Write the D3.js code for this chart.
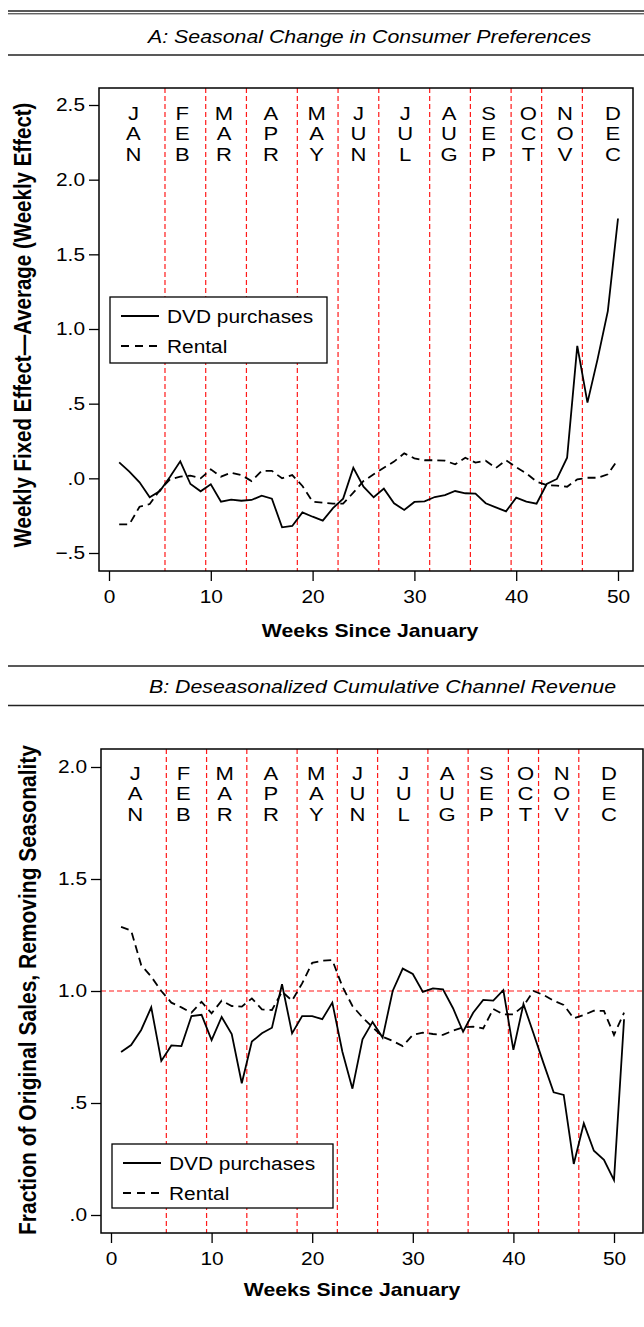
<!DOCTYPE html>
<html>
<head>
<meta charset="utf-8">
<script src="https://cdn.jsdelivr.net/npm/d3@7"></script>
<style>
  body { margin: 0; background: #fff; }
  svg { font-family: "Liberation Sans", Arial, Helvetica, sans-serif; }
</style>
</head>
<body>
<div id="visualization"></div>
<script>
// Month labels and the week where each month ends (red dashed lines)
const months = ["JAN", "FEB", "MAR", "APR", "MAY", "JUN", "JUL", "AUG", "SEP", "OCT", "NOV", "DEC"];
const monthLabelWeeks = [2.4, 7.2, 11.3, 15.9, 20.4, 24.5, 29.1, 33.4, 37.3, 41.2, 44.8, 49.5];
const monthBreaks = [5.5, 9.5, 13.5, 18.5, 22.5, 26.5, 31.5, 35.5, 39.5, 42.5, 46.5];

const xTicks = [0, 10, 20, 30, 40, 50];
const yTicksA = [2.5, 2.0, 1.5, 1.0, 0.5, 0.0, -0.5];
const yTicksB = [2.0, 1.5, 1.0, 0.5, 0.0];

// Panel A: weekly fixed effect minus average, weeks 1..50
const dvdA = [0.107, 0.045, -0.027, -0.127, -0.085, 0.01, 0.114, -0.038, -0.087, -0.04,
              -0.156, -0.143, -0.15, -0.145, -0.116, -0.136, -0.328, -0.319, -0.228, -0.257,
              -0.283, -0.2, -0.136, 0.071, -0.056, -0.127, -0.069, -0.167, -0.212, -0.158,
              -0.154, -0.125, -0.112, -0.085, -0.1, -0.103, -0.167, -0.194, -0.221, -0.129,
              -0.156, -0.17, -0.038, -0.004, 0.138, 0.887, 0.507, 0.8, 1.12, 1.74];
const rentalA = [-0.308, -0.308, -0.19, -0.172, -0.078, -0.007, 0.011, 0.018, 0.0, 0.06,
                 0.011, 0.038, 0.022, -0.018, 0.05, 0.05, 0.0, 0.022, -0.051, -0.156,
                 -0.163, -0.17, -0.17, -0.096, -0.018, 0.027, 0.071, 0.112, 0.167, 0.134,
                 0.121, 0.121, 0.118, 0.094, 0.138, 0.105, 0.118, 0.069, 0.121, 0.074,
                 0.033, -0.022, -0.045, -0.049, -0.056, -0.007, 0.004, 0.004, 0.027, 0.127];

// Panel B: fraction of original sales after removing seasonality, weeks 1..51
const dvdB = [0.728, 0.759, 0.826, 0.927, 0.688, 0.757, 0.754, 0.888, 0.894, 0.781,
              0.884, 0.808, 0.588, 0.774, 0.811, 0.836, 1.03, 0.811, 0.888, 0.888,
              0.874, 0.948, 0.729, 0.564, 0.784, 0.862, 0.792, 1.0, 1.1, 1.076,
              0.996, 1.012, 1.007, 0.923, 0.818, 0.903, 0.96, 0.957, 1.004, 0.737,
              0.942, 0.81, 0.677, 0.548, 0.536, 0.228, 0.409, 0.287, 0.246, 0.156,
              0.874];
const rentalB = [1.286, 1.27, 1.116, 1.064, 1.0, 0.948, 0.927, 0.903, 0.952, 0.9,
                 0.957, 0.933, 0.93, 0.967, 0.918, 0.915, 0.997, 0.957, 1.034, 1.126,
                 1.135, 1.138, 1.02, 0.933, 0.882, 0.838, 0.796, 0.777, 0.754, 0.804,
                 0.814, 0.808, 0.804, 0.823, 0.838, 0.841, 0.833, 0.92, 0.896, 0.896,
                 0.933, 1.0, 0.982, 0.957, 0.938, 0.878, 0.893, 0.912, 0.911, 0.804,
                 0.903];

const width = 644, height = 1327;
const sx = 1.16; // the original figure's lettering is a bit wider than it is tall

const svg = d3.select("#visualization")
              .append("svg")
              .attr("width", width)
              .attr("height", height);

// text placed at (x, y) and stretched horizontally
function label(parent, x, y, str, size) {
    return parent.append("text")
                 .attr("transform", `translate(${x},${y}) scale(${sx},1)`)
                 .style("font-size", size + "px")
                 .text(str);
}

function rule(y, w) {
    svg.append("line")
       .attr("x1", 8).attr("x2", width)
       .attr("y1", y).attr("y2", y)
       .attr("stroke", "#222")
       .attr("stroke-width", w);
}
rule(11, 1.6);
rule(13.8, 1);
rule(55, 1.4);
rule(666, 1.4);
rule(705.5, 1.4);

label(svg, 148, 43, "A: Seasonal Change in Consumer Preferences", 18.4)
   .style("font-style", "italic");
label(svg, 149, 693, "B: Deseasonalized Cumulative Channel Revenue", 18.4)
   .style("font-style", "italic");

function drawPanel(opts) {
    const g = svg.append("g");
    const b = opts.box;

    const x = d3.scaleLinear().domain([0, 50]).range(opts.xRange);
    const y = d3.scaleLinear().domain(opts.yDomain).range(opts.yRange);

    // month boundaries
    g.selectAll(".mline")
     .data(monthBreaks)
     .enter().append("line")
     .attr("x1", d => x(d)).attr("x2", d => x(d))
     .attr("y1", b.top).attr("y2", b.bottom)
     .attr("stroke", "#ff1a1a")
     .attr("stroke-width", 1.2)
     .attr("stroke-dasharray", "5,3");

    if (opts.refLine !== undefined) {
        g.append("line")
         .attr("x1", b.left).attr("x2", b.right)
         .attr("y1", y(opts.refLine)).attr("y2", y(opts.refLine))
         .attr("stroke", "#ff1a1a")
         .attr("stroke-width", 1.2)
         .attr("stroke-dasharray", "5,3");
    }

    // month names, written vertically
    months.forEach((m, i) => {
        const t = g.append("text")
                   .attr("transform", `translate(${x(monthLabelWeeks[i])},0) scale(${sx},1)`)
                   .attr("text-anchor", "middle")
                   .style("font-size", "19px");
        m.split("").forEach((ch, j) => {
            t.append("tspan")
             .attr("x", 0)
             .attr("y", opts.monthY + j * 20.5)
             .text(ch);
        });
    });

    // series
    const line = d3.line()
                   .x((d, i) => x(i + 1))
                   .y(d => y(d));

    g.append("path")
     .datum(opts.rental)
     .attr("fill", "none")
     .attr("stroke", "#000")
     .attr("stroke-width", 1.8)
     .attr("stroke-dasharray", "8,5")
     .attr("d", line);

    g.append("path")
     .datum(opts.dvd)
     .attr("fill", "none")
     .attr("stroke", "#000")
     .attr("stroke-width", 1.8)
     .attr("d", line);

    // frame
    g.append("rect")
     .attr("x", b.left).attr("y", b.top)
     .attr("width", b.right - b.left).attr("height", b.bottom - b.top)
     .attr("fill", "none")
     .attr("stroke", "#000")
     .attr("stroke-width", 1.5);

    // y axis
    const yAxis = d3.axisLeft(y)
                    .tickValues(opts.yTicks)
                    .tickSize(10)
                    .tickFormat(d => d3.format(".1f")(d).replace(/^([-\u2212]?)0\./, "$1.").replace("-", "\u2212"));
    const ya = g.append("g")
                .attr("transform", `translate(${b.left},0)`)
                .call(yAxis);
    ya.select(".domain").remove();
    ya.selectAll("line").attr("stroke-width", 1.3);
    ya.selectAll("text")
      .attr("x", 0)
      .attr("transform", `translate(-14,0) scale(${sx},1)`)
      .style("font-size", "18px")
      .style("font-family", "Liberation Sans, Arial, sans-serif");

    // x axis
    const xAxis = d3.axisBottom(x)
                    .tickValues(xTicks)
                    .tickSize(10)
                    .tickPadding(9);
    const xa = g.append("g")
                .attr("transform", `translate(0,${b.bottom})`)
                .call(xAxis);
    xa.select(".domain").remove();
    xa.selectAll("line").attr("stroke-width", 1.3);
    xa.selectAll("text")
      .attr("transform", `scale(${sx},1)`)
      .style("font-size", "18px")
      .style("font-family", "Liberation Sans, Arial, sans-serif");

    label(g, opts.xTitleX, opts.xTitleY, "Weeks Since January", 18.3)
       .attr("text-anchor", "middle")
       .style("font-weight", "bold");

    g.append("text")
     .attr("transform", `translate(${opts.yTitleX},${opts.yTitleMid}) scale(${sx},1) rotate(-90)`)
     .attr("text-anchor", "middle")
     .style("font-size", opts.yTitleSize + "px")
     .style("font-weight", "bold")
     .text(opts.yTitle);

    // legend
    const L = opts.legend;
    g.append("rect")
     .attr("x", L.x).attr("y", L.y)
     .attr("width", L.w).attr("height", L.h)
     .attr("fill", "#fff")
     .attr("stroke", "#000")
     .attr("stroke-width", 1.3);
    [["DVD purchases", null], ["Rental", "8,6"]].forEach((e, i) => {
        const yy = L.y + 19 + i * 30;
        g.append("line")
         .attr("x1", L.x + 11).attr("x2", L.x + 49)
         .attr("y1", yy).attr("y2", yy)
         .attr("stroke", "#000")
         .attr("stroke-width", 1.8)
         .attr("stroke-dasharray", e[1]);
        label(g, L.x + 57, yy + 7, e[0], 18);
    });
}

drawPanel({
    box: {left: 99, right: 633, top: 88, bottom: 571},
    xRange: [109, 618],
    yDomain: [-0.5, 2.5],
    yRange: [553, 105],
    yTicks: yTicksA,
    dvd: dvdA,
    rental: rentalA,
    monthY: 120,
    xTitleX: 370,
    xTitleY: 637,
    yTitle: "Weekly Fixed Effect\u2014Average (Weekly Effect)",
    yTitleX: 31,
    yTitleMid: 325,
    yTitleSize: 20.5,
    legend: {x: 110, y: 297, w: 217, h: 66}
});

drawPanel({
    box: {left: 101, right: 643, top: 749, bottom: 1233},
    xRange: [111, 614],
    yDomain: [0, 2],
    yRange: [1215, 767],
    yTicks: yTicksB,
    dvd: dvdB,
    rental: rentalB,
    refLine: 1.0,
    monthY: 780,
    xTitleX: 352,
    xTitleY: 1296,
    yTitle: "Fraction of Original Sales, Removing Seasonality",
    yTitleX: 36,
    yTitleMid: 990,
    yTitleSize: 21,
    legend: {x: 112, y: 1144, w: 221, h: 64}
});
</script>
</body>
</html>
